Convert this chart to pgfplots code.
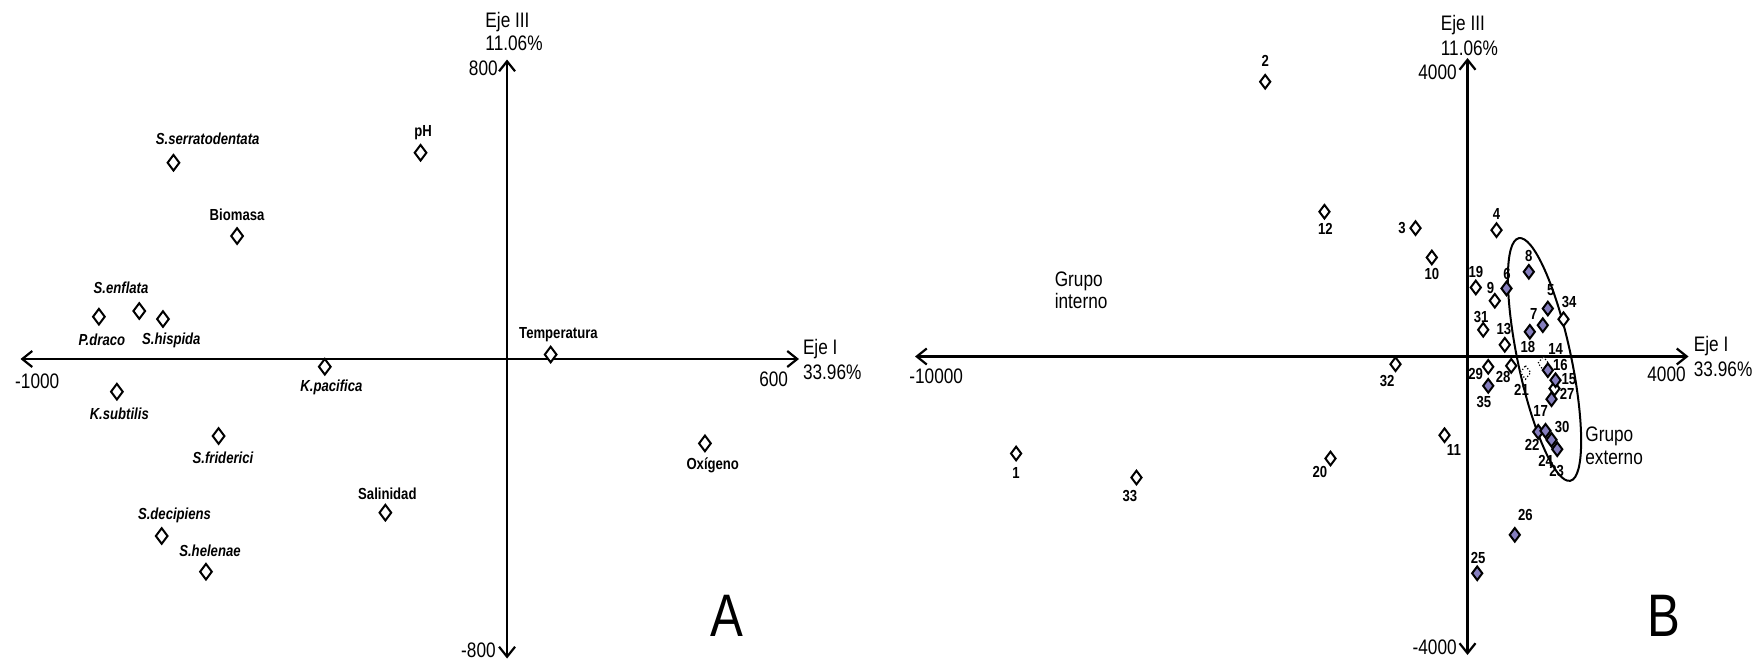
\documentclass[border=0pt]{standalone}
\usepackage{pgfplots}
\usepackage{pgfplotstable}
\pgfplotsset{compat=1.18}
\usepackage{fontspec}
\setmainfont{Liberation Sans}[FakeStretch=0.82]
\usetikzlibrary{arrows.meta}
\definecolor{lav}{RGB}{133,126,190}
\newcommand\axf{\fontsize{10.5}{12}\selectfont}
\newcommand\lbf{\fontsize{8}{9.6}\selectfont\bfseries}

% columns: x, y = scores; lab = label; dx, dy = label offset in pt
\pgfplotstableread{
x y lab dx dy
-685.6 524.3 S.serratodentata 17.1 11.8
-755.9 128.2 S.enflata -9.1 11.8
-838.9 113.0 P.draco 1.5 -11.3
-707.2 106.8 S.hispida 4.2 -10.7
-374.6 -20.6 K.pacifica 3.3 -10.5
-801.9 -87.3 K.subtilis 1.2 -11
-592.9 -205.7 S.friderici 2.2 -10.8
-709.8 -472.8 S.decipiens 6.4 10.2
-618.8 -568.1 S.helenae 2 10.5
}\tAsp
\pgfplotstableread{
x y lab dx dy
-177.8 551.0 pH 1.3 9.8
-554.9 328.5 Biomasa 0 10.7
89.6 12.0 Temperatura 3.9 10
-250.1 -410.5 Salinidad 1 9.3
406.7 -225.4 Oxígeno 3.9 -11.1
}\tAvar
\pgfplotstableread{
x y lab dx dy
1370 -90 14 6.2 7
1050 -214 21 -2 -8.7
}\tBdot
\pgfplotstableread{
x y lab dx dy
-8170 -1300 1 0 -9.5
-3662 3682 2 0 10.5
-941 1720 3 -6.7 0
525 1693 4 0 8
494 747 9 -2.2 6.2
-646 1327 10 0 -8.3
-416 -1055 11 4.7 -7.3
-2589 1940 12 0.5 -8.7
675 157 13 -0.5 7.8
150 925 19 0 7.5
-2480 -1367 20 -5.3 -6.7
1575 -429 27 6.3 -2.8
791 -125 28 -4 -5.8
375 -138 29 -6.3 -3.7
284 358 31 -1 6.5
-1303 -103 32 -4.2 -8.5
-5992 -1622 33 -3.3 -9.2
1738 500 34 2.8 8.7
}\tBopen
\pgfplotstableread{
x y lab dx dy
1454 643 5 1.5 9
706 912 6 0.3 7.2
1363 420 7 -4.5 5.8
1110 1135 8 0 8
1593 -318 15 6.7 0.5
1454 -184 16 6.3 2.5
1521 -572 17 -5.5 -5.8
1128 331 18 -1 -7.8
1280 -1009 22 -3 -6.5
1624 -1243 23 -0.3 -10.8
1521 -1117 24 -3 -10.5
176 -2905 25 0.5 7.8
856 -2390 26 5.3 10
1412 -996 30 8.3 1.7
375 -393 35 -2.2 -8.3
}\tBfill

\pgfplotsset{
  bip/.style={
    scale only axis, clip=false, enlargelimits=false,
    axis lines=middle, separate axis lines,
    axis line style={line width=1.1pt, arrows={Straight Barb[length=5pt,width=8pt]-Straight Barb[length=5pt,width=8pt]}},
    every inner x axis line/.append style={arrows={Straight Barb[length=5pt,width=8pt]-Straight Barb[length=5pt,width=8pt]}},
    every inner y axis line/.append style={arrows={Straight Barb[length=5pt,width=8pt]-Straight Barb[length=5pt,width=8pt]}},
    xtick=\empty, ytick=\empty,
    anchor=south west,
  },
  lbl/.style={
    draw=none, mark=none, point meta=explicit symbolic, nodes near coords,
    every node near coord/.style={anchor=center, inner sep=0pt, font=\lbf, text=black},
  },
}
% pt -> data units: panel A x 4.111, y 5.342; panel B x 36.20, y 26.80

\begin{document}
\begin{tikzpicture}
\useasboundingbox (0,0) rectangle (876pt,330pt);

% ---------------- Panel A ----------------
\begin{axis}[bip, at={(10.25pt,0.75pt)}, width=389.25pt, height=299.5pt,
  xmin=-1000, xmax=600, ymin=-800, ymax=800]
\addplot[only marks, mark=diamond*, mark size=3.9pt, mark options={draw=black, fill=white, line width=1pt, solid}] table[x=x,y=y] {\tAsp};
\addplot[only marks, mark=diamond*, mark size=3.9pt, mark options={draw=black, fill=white, line width=1pt, solid}] table[x=x,y=y] {\tAvar};
\addplot[lbl, every node near coord/.append style={font=\lbf\itshape}]
  table[x expr=\thisrow{x}+4.111*\thisrow{dx}, y expr=\thisrow{y}+5.342*\thisrow{dy}, meta=lab] {\tAsp};
\addplot[lbl]
  table[x expr=\thisrow{x}+4.111*\thisrow{dx}, y expr=\thisrow{y}+5.342*\thisrow{dy}, meta=lab] {\tAvar};
\node[anchor=base west, inner sep=0pt, font=\axf, xshift=-2.85pt, yshift=-14.5pt] at (axis cs:-1000,0) {-1000};
\node[anchor=base east, inner sep=0pt, font=\axf, xshift=-5.3pt, yshift=-13.6pt] at (axis cs:600,0) {600};
\node[anchor=base east, inner sep=0pt, font=\axf, xshift=-4.5pt, yshift=-7.8pt] at (axis cs:0,800) {800};
\node[anchor=base east, inner sep=0pt, font=\axf, xshift=-5.5pt, yshift=0.6pt] at (axis cs:0,-800) {-800};
\node[anchor=base west, inner sep=0pt, font=\axf, xshift=-11pt, yshift=15.8pt] at (axis cs:0,800) {Eje III};
\node[anchor=base west, inner sep=0pt, font=\axf, xshift=-11pt, yshift=4.3pt] at (axis cs:0,800) {11.06\%};
\node[anchor=base west, inner sep=0pt, font=\axf, xshift=1.8pt, yshift=2.5pt] at (axis cs:600,0) {Eje I};
\node[anchor=base west, inner sep=0pt, font=\axf, xshift=1.8pt, yshift=-10pt] at (axis cs:600,0) {33.96\%};
\end{axis}

% ---------------- Panel B ----------------
\begin{axis}[bip, at={(457.5pt,2.5pt)}, width=386.75pt, height=298.5pt,
  xmin=-10000, xmax=4000, ymin=-4000, ymax=4000]
\draw[line width=1pt] (axis cs:1394,-40) ellipse [x radius=13.3pt, y radius=62pt, rotate=12];
\addplot[only marks, mark=diamond*, mark size=3.4pt, mark options={draw=black, fill=white, line width=0.6pt, densely dotted}] table[x=x,y=y] {\tBdot};
\addplot[only marks, mark=diamond*, mark size=3.4pt, mark options={draw=black, fill=white, line width=1pt, solid}] table[x=x,y=y] {\tBopen};
\addplot[only marks, mark=diamond*, mark size=3.4pt, mark options={draw=black, fill=lav, line width=1pt, solid}] table[x=x,y=y] {\tBfill};
\addplot[lbl] table[x expr=\thisrow{x}+36.2*\thisrow{dx}, y expr=\thisrow{y}+26.8*\thisrow{dy}, meta=lab] {\tBdot};
\addplot[lbl] table[x expr=\thisrow{x}+36.2*\thisrow{dx}, y expr=\thisrow{y}+26.8*\thisrow{dy}, meta=lab] {\tBopen};
\addplot[lbl] table[x expr=\thisrow{x}+36.2*\thisrow{dx}, y expr=\thisrow{y}+26.8*\thisrow{dy}, meta=lab] {\tBfill};
\node[anchor=base west, inner sep=0pt, font=\axf, xshift=-3pt, yshift=-13.3pt] at (axis cs:-10000,0) {-10000};
\node[anchor=base east, inner sep=0pt, font=\axf, xshift=-1.2pt, yshift=-12.3pt] at (axis cs:4000,0) {4000};
\node[anchor=base east, inner sep=0pt, font=\axf, xshift=-5.2pt, yshift=-10.6pt] at (axis cs:0,4000) {4000};
\node[anchor=base east, inner sep=0pt, font=\axf, xshift=-5.2pt, yshift=0.5pt] at (axis cs:0,-4000) {-4000};
\node[anchor=base west, inner sep=0pt, font=\axf, xshift=-13.5pt, yshift=13.9pt] at (axis cs:0,4000) {Eje III};
\node[anchor=base west, inner sep=0pt, font=\axf, xshift=-13.5pt, yshift=1.4pt] at (axis cs:0,4000) {11.06\%};
\node[anchor=base west, inner sep=0pt, font=\axf, xshift=2.5pt, yshift=2.5pt] at (axis cs:4000,0) {Eje I};
\node[anchor=base west, inner sep=0pt, font=\axf, xshift=2.5pt, yshift=-10pt] at (axis cs:4000,0) {33.96\%};
\end{axis}

% panel letters and group names
\node[anchor=base west, inner sep=0pt, font=\fontsize{30}{32}\selectfont] at (355pt,12pt) {A};
\node[anchor=base west, inner sep=0pt, font=\fontsize{30}{32}\selectfont] at (823.5pt,12pt) {B};
\node[anchor=base west, inner sep=0pt, font=\axf] at (527.2pt,186.7pt) {Grupo};
\node[anchor=base west, inner sep=0pt, font=\axf] at (527.2pt,175.5pt) {interno};
\node[anchor=base west, inner sep=0pt, font=\axf] at (792.5pt,109.2pt) {Grupo};
\node[anchor=base west, inner sep=0pt, font=\axf] at (792.5pt,98pt) {externo};
\end{tikzpicture}
\end{document}
